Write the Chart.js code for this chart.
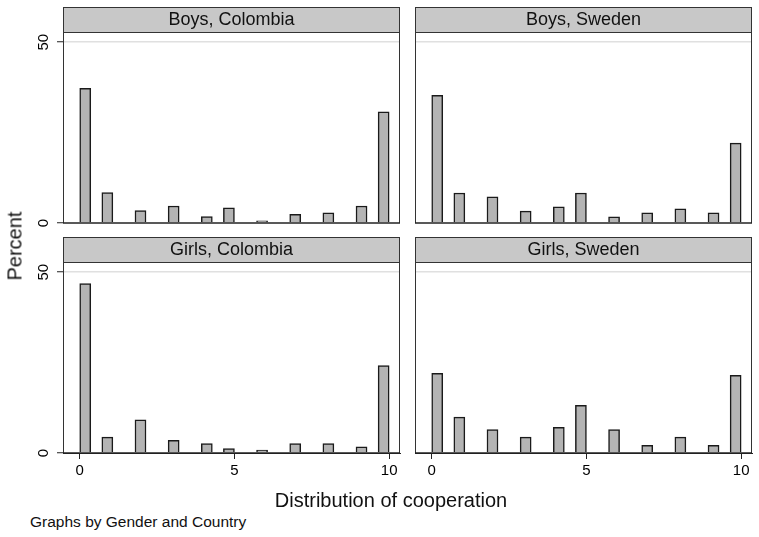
<!DOCTYPE html>
<html>
<head>
<meta charset="utf-8">
<script src="https://cdn.jsdelivr.net/npm/chart.js@4.4.1/dist/chart.umd.min.js"></script>
<style>
  body { margin: 0; background: #fff; font-family: "Liberation Sans", Arial, sans-serif; }
  #wrap { position: relative; width: 759px; height: 537px; overflow: hidden; background: #fff; }
  canvas { position: absolute; }
  .txt { position: absolute; color: #111; white-space: nowrap; }
</style>
</head>
<body>
<div id="wrap">
  <canvas id="p0"></canvas>
  <canvas id="p1"></canvas>
  <canvas id="p2"></canvas>
  <canvas id="p3"></canvas>
  <div class="txt" id="ytitle" style="font-size:20px; left:15px; top:246px; transform: translate(-50%,-50%) rotate(-90deg);">Percent</div>
  <div class="txt" style="font-size:20px; left:391px; top:500px; transform: translate(-50%,-50%);">Distribution of cooperation</div>
  <div class="txt" style="font-size:15.5px; left:30px; top:522px; transform: translateY(-50%);">Graphs by Gender and Country</div>
</div>
<script>
// Werte 0..10 (Kooperation) und Prozent je Gruppe
const coopValues = [0, 1, 2, 3, 4, 5, 6, 7, 8, 9, 10];
const boysColombia = [37.2, 8.4, 3.4, 4.7, 1.8, 4.2, 0.6, 2.4, 2.8, 4.7, 30.7];
const boysSweden = [35.3, 8.3, 7.2, 3.3, 4.5, 8.3, 1.7, 2.8, 3.9, 2.8, 22.1];
const girlsColombia = [46.8, 4.4, 9.2, 3.5, 2.6, 1.2, 0.8, 2.6, 2.6, 1.7, 24.2];
const girlsSweden = [22.0, 9.9, 6.5, 4.4, 7.1, 13.2, 6.5, 2.1, 4.4, 2.1, 21.5];
const panelTitles = ['Boys, Colombia', 'Boys, Sweden', 'Girls, Colombia', 'Girls, Sweden'];
const xTicks = [0, 5, 10];
const yTicks = [0, 50];
const nBins = 28;

const FONT = '"Liberation Sans", Arial, sans-serif';

// stata-like bins: (a, b], first bin closed
function toBins(pcts) {
  const w = 10 / nBins;
  const out = [];
  for (let k = 0; k < nBins; k++) out.push({ x: (k + 0.5) * w, y: null });
  coopValues.forEach((v, i) => {
    const k = Math.max(0, Math.ceil(v / w - 1e-9) - 1);
    out[k].y = pcts[i];
  });
  return out;
}

const framePlugin = {
  id: 'frame',
  afterDraw(chart, args, opts) {
    const { ctx, chartArea: a } = chart;
    ctx.save();
    // strip
    ctx.fillStyle = '#c8c8c8';
    ctx.fillRect(a.left, a.top - 25, a.right - a.left, 25);
    ctx.strokeStyle = '#333';
    ctx.lineWidth = 1;
    ctx.strokeRect(a.left + 0.5, a.top - 25 + 0.5, a.right - a.left - 1, 25);
    ctx.fillStyle = '#111';
    ctx.font = '18px ' + FONT;
    ctx.textAlign = 'center';
    ctx.textBaseline = 'middle';
    ctx.fillText(opts.title, (a.left + a.right) / 2, a.top - 12);
    // box
    ctx.strokeStyle = '#333';
    ctx.beginPath();
    ctx.moveTo(a.left + 0.5, a.top);
    ctx.lineTo(a.left + 0.5, a.bottom);
    ctx.moveTo(a.right - 0.5, a.top);
    ctx.lineTo(a.right - 0.5, a.bottom);
    ctx.stroke();
    ctx.strokeStyle = '#222';
    ctx.lineWidth = 1.5;
    ctx.beginPath();
    ctx.moveTo(a.left, a.bottom);
    ctx.lineTo(a.right, a.bottom);
    ctx.stroke();
    ctx.restore();
  }
};

function makePanel(id, pcts, title, col, row) {
  const showY = col === 0;
  const showX = row === 1;
  const cv = document.getElementById(id);
  const W = 405;
  const H = showX ? 263 : 239;
  cv.width = W; cv.height = H;
  cv.style.width = W + 'px'; cv.style.height = H + 'px';
  cv.style.left = (col === 0 ? 0 : 352) + 'px';
  cv.style.top = (row === 0 ? 0 : 230) + 'px';

  new Chart(cv.getContext('2d'), {
    type: 'bar',
    data: {
      datasets: [{
        data: toBins(pcts),
        backgroundColor: '#b4b4b4',
        borderColor: '#1a1a1a',
        borderWidth: 1.5,
        barPercentage: 1,
        categoryPercentage: 1
      }]
    },
    options: {
      responsive: false,
      animation: false,
      layout: { padding: { top: 32, right: 5, bottom: showX ? 6 : 16, left: 0 } },
      plugins: {
        legend: { display: false },
        tooltip: { enabled: false },
        frame: { title: title }
      },
      scales: {
        x: {
          type: 'linear',
          min: -0.54,
          max: 10.35,
          offset: false,
          display: showX,
          afterBuildTicks: s => { s.ticks = xTicks.map(v => ({ value: v })); },
          afterFit: s => { s.height = showX ? 34 : 0; },
          grid: { offset: false, drawOnChartArea: false, tickLength: 6, tickColor: '#222', tickWidth: 1 },
          border: { color: '#222' },
          ticks: { font: { family: FONT, size: 15 }, color: '#000', padding: 3, maxRotation: 0 }
        },
        y: {
          min: 0,
          max: 52.8,
          afterBuildTicks: s => { s.ticks = yTicks.map(v => ({ value: v })); },
          afterFit: s => { s.width = 63; },
          grid: {
            color: c => (c.tick && c.tick.value === 50) ? '#e0e0e0' : 'rgba(0,0,0,0)',
            lineWidth: 1.5,
            tickColor: '#222',
            tickWidth: 1,
            tickLength: showY ? 6 : 0
          },
          border: { display: false },
          ticks: {
            display: showY,
            font: { family: FONT, size: 15 },
            color: '#000',
            minRotation: 90,
            maxRotation: 90,
            crossAlign: 'center',
            padding: 5
          }
        }
      }
    },
    plugins: [framePlugin]
  });
}

makePanel('p0', boysColombia, panelTitles[0], 0, 0);
makePanel('p1', boysSweden, panelTitles[1], 1, 0);
makePanel('p2', girlsColombia, panelTitles[2], 0, 1);
makePanel('p3', girlsSweden, panelTitles[3], 1, 1);
</script>
</body>
</html>
